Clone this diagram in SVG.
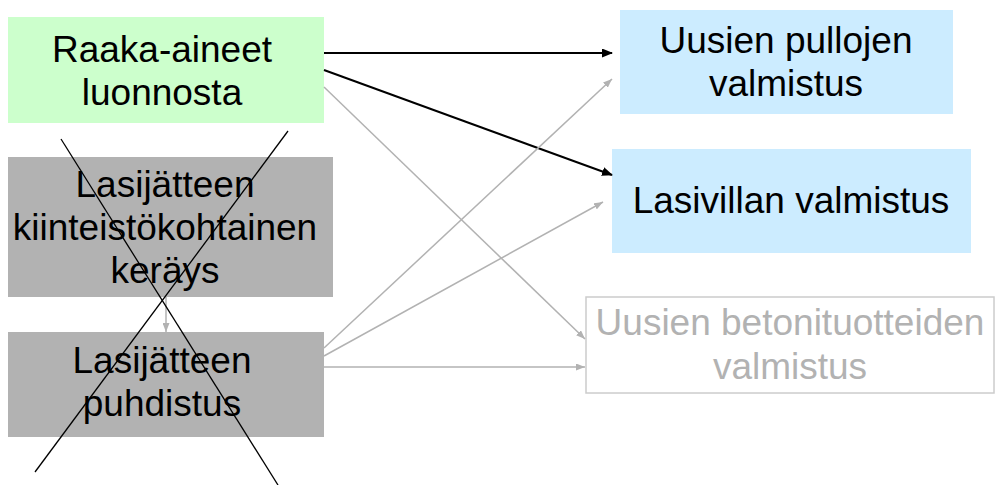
<svg xmlns="http://www.w3.org/2000/svg" width="995" height="485" viewBox="0 0 995 485">
<style>
text{font-family:"Liberation Sans",Arial,sans-serif;font-size:37px;text-anchor:middle;fill:#000}
.dim{fill:#b2b2b2}
.blk{stroke:#000;stroke-width:2;fill:none}
.gry{stroke:#b2b2b2;stroke-width:1.5;fill:none}
.x{stroke:#000;stroke-width:1.3;fill:none}
</style>
<defs>
<marker id="ab" markerWidth="11" markerHeight="9" refX="10" refY="4.5" orient="auto" markerUnits="userSpaceOnUse"><path d="M0,0 L11,4.5 L0,9 z" fill="#000"/></marker>
<marker id="ag" markerWidth="9" markerHeight="7" refX="9" refY="3.5" orient="auto" markerUnits="userSpaceOnUse"><path d="M0,0 L9,3.5 L0,7 z" fill="#b2b2b2"/></marker>
</defs>
<rect width="995" height="485" fill="#fff"/>
<g id="raaka">
<rect x="8" y="17" width="316" height="106" fill="#ccffcc"/>
<text x="162" y="62">Raaka-aineet</text>
<text x="162" y="105">luonnosta</text>
</g>
<g id="kerays">
<rect x="8" y="157" width="325" height="140" fill="#b2b2b2"/>
<text x="165" y="197">Lasijätteen</text>
<text x="165" y="240">kiinteistökohtainen</text>
<text x="165" y="283">keräys</text>
</g>
<g id="puhdistus">
<rect x="8" y="332" width="316" height="105" fill="#b2b2b2"/>
<text x="162" y="373">Lasijätteen</text>
<text x="162" y="416">puhdistus</text>
</g>
<g id="pullot">
<rect x="620" y="10" width="333" height="104" fill="#ccecff"/>
<text x="786" y="53">Uusien pullojen</text>
<text x="786" y="96">valmistus</text>
</g>
<g id="lasivilla">
<rect x="612" y="149" width="359" height="104" fill="#ccecff"/>
<text x="791" y="213">Lasivillan valmistus</text>
</g>
<g id="betoni">
<rect x="586" y="297" width="408" height="96" fill="#fff" stroke="#cccccc" stroke-width="1.5"/>
<text class="dim" x="790" y="335">Uusien betonituotteiden</text>
<text class="dim" x="790" y="379">valmistus</text>
</g>
<g id="connectors">
<line class="blk" x1="324" y1="53" x2="612" y2="53" marker-end="url(#ab)"/>
<line class="blk" x1="324" y1="70" x2="612" y2="175" marker-end="url(#ab)"/>
<line class="gry" x1="324" y1="87" x2="585" y2="339" marker-end="url(#ag)"/>
<line class="gry" x1="324" y1="348" x2="612" y2="79" marker-end="url(#ag)"/>
<line class="gry" x1="324" y1="356" x2="603" y2="202" marker-end="url(#ag)"/>
<line class="gry" x1="324" y1="367" x2="585" y2="367" marker-end="url(#ag)"/>
<line class="gry" x1="166" y1="297" x2="166" y2="332" marker-end="url(#ag)"/>
</g>
<g id="cross">
<line class="x" x1="61" y1="139" x2="278" y2="485"/>
<line class="x" x1="288" y1="131" x2="35" y2="472"/>
</g>
</svg>
